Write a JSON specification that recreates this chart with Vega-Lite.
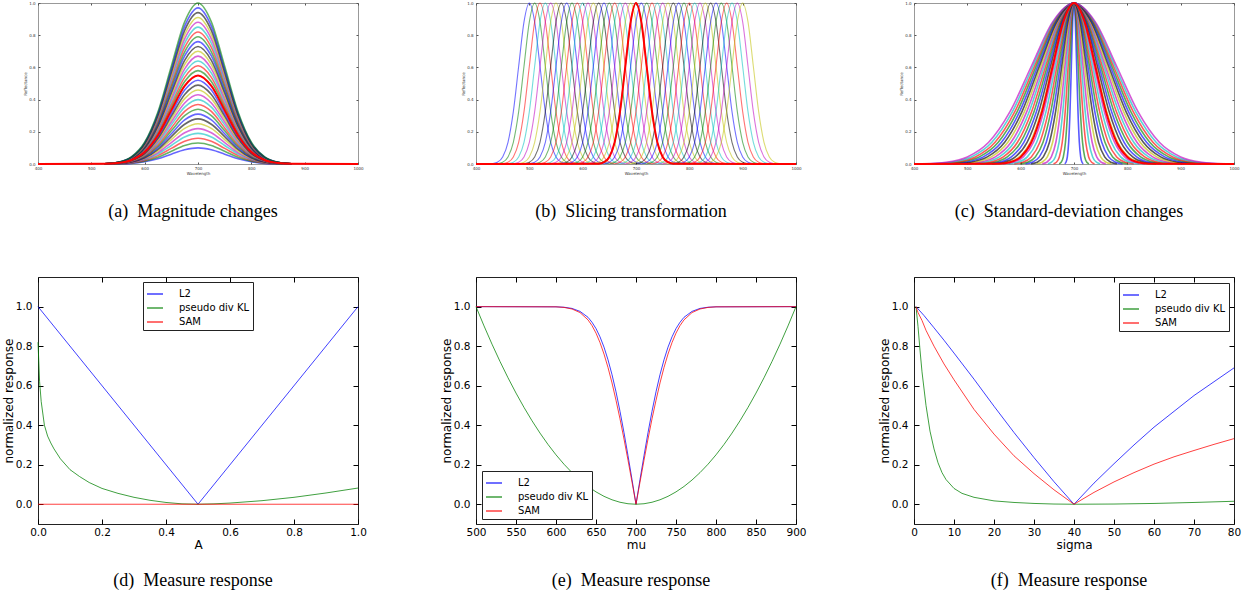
{
"$schema":"https://vega.github.io/schema/vega-lite/v6.json",
"background":"white",
"padding":{"left":1,"top":-2,"right":0,"bottom":0},
"config":{"view":{"stroke":"#222"},"font":"DejaVu Sans","axis":{"grid":false,"domain":false,"labelFlush":false,"labelOverlap":false,"labelFont":"DejaVu Sans","titleFont":"DejaVu Sans","titleFontWeight":"normal","labelColor":"#000","titleColor":"#000","tickColor":"#000"},"title":{"font":"Liberation Serif","fontSize":18,"fontWeight":"normal","color":"#000","orient":"bottom","frame":"group","anchor":"middle"}},
"datasets":{
"a":[
{"s":0.1,"x":525,"y":0},{"s":0.1,"x":550,"y":0.001},{"s":0.1,"x":575,"y":0.004},{"s":0.1,"x":600,"y":0.014},{"s":0.1,"x":625,"y":0.032},{"s":0.1,"x":650,"y":0.061},{"s":0.1,"x":675,"y":0.088},{"s":0.1,"x":700,"y":0.1},{"s":0.1,"x":725,"y":0.088},{"s":0.1,"x":750,"y":0.061},{"s":0.1,"x":775,"y":0.032},{"s":0.1,"x":800,"y":0.014},{"s":0.1,"x":825,"y":0.004},{"s":0.1,"x":850,"y":0.001},{"s":0.1,"x":875,"y":0},
{"s":0.13,"x":525,"y":0},{"s":0.13,"x":550,"y":0.001},{"s":0.13,"x":575,"y":0.006},{"s":0.13,"x":600,"y":0.018},{"s":0.13,"x":625,"y":0.042},{"s":0.13,"x":650,"y":0.079},{"s":0.13,"x":675,"y":0.115},{"s":0.13,"x":700,"y":0.13},{"s":0.13,"x":725,"y":0.115},{"s":0.13,"x":750,"y":0.079},{"s":0.13,"x":775,"y":0.042},{"s":0.13,"x":800,"y":0.018},{"s":0.13,"x":825,"y":0.006},{"s":0.13,"x":850,"y":0.001},{"s":0.13,"x":875,"y":0},
{"s":0.16,"x":525,"y":0},{"s":0.16,"x":550,"y":0.002},{"s":0.16,"x":575,"y":0.007},{"s":0.16,"x":600,"y":0.022},{"s":0.16,"x":625,"y":0.052},{"s":0.16,"x":650,"y":0.097},{"s":0.16,"x":675,"y":0.141},{"s":0.16,"x":700,"y":0.16},{"s":0.16,"x":725,"y":0.141},{"s":0.16,"x":750,"y":0.097},{"s":0.16,"x":775,"y":0.052},{"s":0.16,"x":800,"y":0.022},{"s":0.16,"x":825,"y":0.007},{"s":0.16,"x":850,"y":0.002},{"s":0.16,"x":875,"y":0},
{"s":0.19,"x":525,"y":0},{"s":0.19,"x":550,"y":0.002},{"s":0.19,"x":575,"y":0.008},{"s":0.19,"x":600,"y":0.026},{"s":0.19,"x":625,"y":0.062},{"s":0.19,"x":650,"y":0.115},{"s":0.19,"x":675,"y":0.168},{"s":0.19,"x":700,"y":0.19},{"s":0.19,"x":725,"y":0.168},{"s":0.19,"x":750,"y":0.115},{"s":0.19,"x":775,"y":0.062},{"s":0.19,"x":800,"y":0.026},{"s":0.19,"x":825,"y":0.008},{"s":0.19,"x":850,"y":0.002},{"s":0.19,"x":875,"y":0},
{"s":0.22,"x":525,"y":0},{"s":0.22,"x":550,"y":0.002},{"s":0.22,"x":575,"y":0.01},{"s":0.22,"x":600,"y":0.03},{"s":0.22,"x":625,"y":0.071},{"s":0.22,"x":650,"y":0.133},{"s":0.22,"x":675,"y":0.194},{"s":0.22,"x":700,"y":0.22},{"s":0.22,"x":725,"y":0.194},{"s":0.22,"x":750,"y":0.133},{"s":0.22,"x":775,"y":0.071},{"s":0.22,"x":800,"y":0.03},{"s":0.22,"x":825,"y":0.01},{"s":0.22,"x":850,"y":0.002},{"s":0.22,"x":875,"y":0},
{"s":0.25,"x":525,"y":0.001},{"s":0.25,"x":550,"y":0.003},{"s":0.25,"x":575,"y":0.011},{"s":0.25,"x":600,"y":0.034},{"s":0.25,"x":625,"y":0.081},{"s":0.25,"x":650,"y":0.152},{"s":0.25,"x":675,"y":0.221},{"s":0.25,"x":700,"y":0.25},{"s":0.25,"x":725,"y":0.221},{"s":0.25,"x":750,"y":0.152},{"s":0.25,"x":775,"y":0.081},{"s":0.25,"x":800,"y":0.034},{"s":0.25,"x":825,"y":0.011},{"s":0.25,"x":850,"y":0.003},{"s":0.25,"x":875,"y":0.001},
{"s":0.28,"x":525,"y":0.001},{"s":0.28,"x":550,"y":0.003},{"s":0.28,"x":575,"y":0.012},{"s":0.28,"x":600,"y":0.038},{"s":0.28,"x":625,"y":0.091},{"s":0.28,"x":650,"y":0.17},{"s":0.28,"x":675,"y":0.247},{"s":0.28,"x":700,"y":0.28},{"s":0.28,"x":725,"y":0.247},{"s":0.28,"x":750,"y":0.17},{"s":0.28,"x":775,"y":0.091},{"s":0.28,"x":800,"y":0.038},{"s":0.28,"x":825,"y":0.012},{"s":0.28,"x":850,"y":0.003},{"s":0.28,"x":875,"y":0.001},
{"s":0.31,"x":525,"y":0.001},{"s":0.31,"x":550,"y":0.003},{"s":0.31,"x":575,"y":0.014},{"s":0.31,"x":600,"y":0.042},{"s":0.31,"x":625,"y":0.101},{"s":0.31,"x":650,"y":0.188},{"s":0.31,"x":675,"y":0.274},{"s":0.31,"x":700,"y":0.31},{"s":0.31,"x":725,"y":0.274},{"s":0.31,"x":750,"y":0.188},{"s":0.31,"x":775,"y":0.101},{"s":0.31,"x":800,"y":0.042},{"s":0.31,"x":825,"y":0.014},{"s":0.31,"x":850,"y":0.003},{"s":0.31,"x":875,"y":0.001},
{"s":0.34,"x":525,"y":0.001},{"s":0.34,"x":550,"y":0.004},{"s":0.34,"x":575,"y":0.015},{"s":0.34,"x":600,"y":0.046},{"s":0.34,"x":625,"y":0.11},{"s":0.34,"x":650,"y":0.206},{"s":0.34,"x":675,"y":0.3},{"s":0.34,"x":700,"y":0.34},{"s":0.34,"x":725,"y":0.3},{"s":0.34,"x":750,"y":0.206},{"s":0.34,"x":775,"y":0.11},{"s":0.34,"x":800,"y":0.046},{"s":0.34,"x":825,"y":0.015},{"s":0.34,"x":850,"y":0.004},{"s":0.34,"x":875,"y":0.001},
{"s":0.37,"x":525,"y":0.001},{"s":0.37,"x":550,"y":0.004},{"s":0.37,"x":575,"y":0.016},{"s":0.37,"x":600,"y":0.05},{"s":0.37,"x":625,"y":0.12},{"s":0.37,"x":650,"y":0.224},{"s":0.37,"x":675,"y":0.327},{"s":0.37,"x":700,"y":0.37},{"s":0.37,"x":725,"y":0.327},{"s":0.37,"x":750,"y":0.224},{"s":0.37,"x":775,"y":0.12},{"s":0.37,"x":800,"y":0.05},{"s":0.37,"x":825,"y":0.016},{"s":0.37,"x":850,"y":0.004},{"s":0.37,"x":875,"y":0.001},
{"s":0.4,"x":525,"y":0.001},{"s":0.4,"x":550,"y":0.004},{"s":0.4,"x":575,"y":0.018},{"s":0.4,"x":600,"y":0.054},{"s":0.4,"x":625,"y":0.13},{"s":0.4,"x":650,"y":0.243},{"s":0.4,"x":675,"y":0.353},{"s":0.4,"x":700,"y":0.4},{"s":0.4,"x":725,"y":0.353},{"s":0.4,"x":750,"y":0.243},{"s":0.4,"x":775,"y":0.13},{"s":0.4,"x":800,"y":0.054},{"s":0.4,"x":825,"y":0.018},{"s":0.4,"x":850,"y":0.004},{"s":0.4,"x":875,"y":0.001},
{"s":0.43,"x":525,"y":0.001},{"s":0.43,"x":550,"y":0.005},{"s":0.43,"x":575,"y":0.019},{"s":0.43,"x":600,"y":0.058},{"s":0.43,"x":625,"y":0.14},{"s":0.43,"x":650,"y":0.261},{"s":0.43,"x":675,"y":0.379},{"s":0.43,"x":700,"y":0.43},{"s":0.43,"x":725,"y":0.379},{"s":0.43,"x":750,"y":0.261},{"s":0.43,"x":775,"y":0.14},{"s":0.43,"x":800,"y":0.058},{"s":0.43,"x":825,"y":0.019},{"s":0.43,"x":850,"y":0.005},{"s":0.43,"x":875,"y":0.001},
{"s":0.46,"x":525,"y":0.001},{"s":0.46,"x":550,"y":0.005},{"s":0.46,"x":575,"y":0.02},{"s":0.46,"x":600,"y":0.062},{"s":0.46,"x":625,"y":0.149},{"s":0.46,"x":650,"y":0.279},{"s":0.46,"x":675,"y":0.406},{"s":0.46,"x":700,"y":0.46},{"s":0.46,"x":725,"y":0.406},{"s":0.46,"x":750,"y":0.279},{"s":0.46,"x":775,"y":0.149},{"s":0.46,"x":800,"y":0.062},{"s":0.46,"x":825,"y":0.02},{"s":0.46,"x":850,"y":0.005},{"s":0.46,"x":875,"y":0.001},
{"s":0.49,"x":525,"y":0.001},{"s":0.49,"x":550,"y":0.005},{"s":0.49,"x":575,"y":0.022},{"s":0.49,"x":600,"y":0.066},{"s":0.49,"x":625,"y":0.159},{"s":0.49,"x":650,"y":0.297},{"s":0.49,"x":675,"y":0.432},{"s":0.49,"x":700,"y":0.49},{"s":0.49,"x":725,"y":0.432},{"s":0.49,"x":750,"y":0.297},{"s":0.49,"x":775,"y":0.159},{"s":0.49,"x":800,"y":0.066},{"s":0.49,"x":825,"y":0.022},{"s":0.49,"x":850,"y":0.005},{"s":0.49,"x":875,"y":0.001},
{"s":0.52,"x":525,"y":0.001},{"s":0.52,"x":550,"y":0.006},{"s":0.52,"x":575,"y":0.023},{"s":0.52,"x":600,"y":0.07},{"s":0.52,"x":625,"y":0.169},{"s":0.52,"x":650,"y":0.315},{"s":0.52,"x":675,"y":0.459},{"s":0.52,"x":700,"y":0.52},{"s":0.52,"x":725,"y":0.459},{"s":0.52,"x":750,"y":0.315},{"s":0.52,"x":775,"y":0.169},{"s":0.52,"x":800,"y":0.07},{"s":0.52,"x":825,"y":0.023},{"s":0.52,"x":850,"y":0.006},{"s":0.52,"x":875,"y":0.001},
{"s":0.58,"x":525,"y":0.001},{"s":0.58,"x":550,"y":0.006},{"s":0.58,"x":575,"y":0.025},{"s":0.58,"x":600,"y":0.078},{"s":0.58,"x":625,"y":0.188},{"s":0.58,"x":650,"y":0.352},{"s":0.58,"x":675,"y":0.512},{"s":0.58,"x":700,"y":0.58},{"s":0.58,"x":725,"y":0.512},{"s":0.58,"x":750,"y":0.352},{"s":0.58,"x":775,"y":0.188},{"s":0.58,"x":800,"y":0.078},{"s":0.58,"x":825,"y":0.025},{"s":0.58,"x":850,"y":0.006},{"s":0.58,"x":875,"y":0.001},
{"s":0.61,"x":525,"y":0.001},{"s":0.61,"x":550,"y":0.007},{"s":0.61,"x":575,"y":0.027},{"s":0.61,"x":600,"y":0.083},{"s":0.61,"x":625,"y":0.198},{"s":0.61,"x":650,"y":0.37},{"s":0.61,"x":675,"y":0.538},{"s":0.61,"x":700,"y":0.61},{"s":0.61,"x":725,"y":0.538},{"s":0.61,"x":750,"y":0.37},{"s":0.61,"x":775,"y":0.198},{"s":0.61,"x":800,"y":0.083},{"s":0.61,"x":825,"y":0.027},{"s":0.61,"x":850,"y":0.007},{"s":0.61,"x":875,"y":0.001},
{"s":0.64,"x":525,"y":0.001},{"s":0.64,"x":550,"y":0.007},{"s":0.64,"x":575,"y":0.028},{"s":0.64,"x":600,"y":0.087},{"s":0.64,"x":625,"y":0.208},{"s":0.64,"x":650,"y":0.388},{"s":0.64,"x":675,"y":0.565},{"s":0.64,"x":700,"y":0.64},{"s":0.64,"x":725,"y":0.565},{"s":0.64,"x":750,"y":0.388},{"s":0.64,"x":775,"y":0.208},{"s":0.64,"x":800,"y":0.087},{"s":0.64,"x":825,"y":0.028},{"s":0.64,"x":850,"y":0.007},{"s":0.64,"x":875,"y":0.001},
{"s":0.67,"x":525,"y":0.001},{"s":0.67,"x":550,"y":0.007},{"s":0.67,"x":575,"y":0.029},{"s":0.67,"x":600,"y":0.091},{"s":0.67,"x":625,"y":0.218},{"s":0.67,"x":650,"y":0.406},{"s":0.67,"x":675,"y":0.591},{"s":0.67,"x":700,"y":0.67},{"s":0.67,"x":725,"y":0.591},{"s":0.67,"x":750,"y":0.406},{"s":0.67,"x":775,"y":0.218},{"s":0.67,"x":800,"y":0.091},{"s":0.67,"x":825,"y":0.029},{"s":0.67,"x":850,"y":0.007},{"s":0.67,"x":875,"y":0.001},
{"s":0.7,"x":525,"y":0.002},{"s":0.7,"x":550,"y":0.008},{"s":0.7,"x":575,"y":0.031},{"s":0.7,"x":600,"y":0.095},{"s":0.7,"x":625,"y":0.227},{"s":0.7,"x":650,"y":0.425},{"s":0.7,"x":675,"y":0.618},{"s":0.7,"x":700,"y":0.7},{"s":0.7,"x":725,"y":0.618},{"s":0.7,"x":750,"y":0.425},{"s":0.7,"x":775,"y":0.227},{"s":0.7,"x":800,"y":0.095},{"s":0.7,"x":825,"y":0.031},{"s":0.7,"x":850,"y":0.008},{"s":0.7,"x":875,"y":0.002},
{"s":0.73,"x":525,"y":0.002},{"s":0.73,"x":550,"y":0.008},{"s":0.73,"x":575,"y":0.032},{"s":0.73,"x":600,"y":0.099},{"s":0.73,"x":625,"y":0.237},{"s":0.73,"x":650,"y":0.443},{"s":0.73,"x":675,"y":0.644},{"s":0.73,"x":700,"y":0.73},{"s":0.73,"x":725,"y":0.644},{"s":0.73,"x":750,"y":0.443},{"s":0.73,"x":775,"y":0.237},{"s":0.73,"x":800,"y":0.099},{"s":0.73,"x":825,"y":0.032},{"s":0.73,"x":850,"y":0.008},{"s":0.73,"x":875,"y":0.002},
{"s":0.76,"x":525,"y":0.002},{"s":0.76,"x":550,"y":0.008},{"s":0.76,"x":575,"y":0.033},{"s":0.76,"x":600,"y":0.103},{"s":0.76,"x":625,"y":0.247},{"s":0.76,"x":650,"y":0.461},{"s":0.76,"x":675,"y":0.671},{"s":0.76,"x":700,"y":0.76},{"s":0.76,"x":725,"y":0.671},{"s":0.76,"x":750,"y":0.461},{"s":0.76,"x":775,"y":0.247},{"s":0.76,"x":800,"y":0.103},{"s":0.76,"x":825,"y":0.033},{"s":0.76,"x":850,"y":0.008},{"s":0.76,"x":875,"y":0.002},
{"s":0.79,"x":525,"y":0.002},{"s":0.79,"x":550,"y":0.009},{"s":0.79,"x":575,"y":0.035},{"s":0.79,"x":600,"y":0.107},{"s":0.79,"x":625,"y":0.257},{"s":0.79,"x":650,"y":0.479},{"s":0.79,"x":675,"y":0.697},{"s":0.79,"x":700,"y":0.79},{"s":0.79,"x":725,"y":0.697},{"s":0.79,"x":750,"y":0.479},{"s":0.79,"x":775,"y":0.257},{"s":0.79,"x":800,"y":0.107},{"s":0.79,"x":825,"y":0.035},{"s":0.79,"x":850,"y":0.009},{"s":0.79,"x":875,"y":0.002},
{"s":0.82,"x":525,"y":0.002},{"s":0.82,"x":550,"y":0.009},{"s":0.82,"x":575,"y":0.036},{"s":0.82,"x":600,"y":0.111},{"s":0.82,"x":625,"y":0.266},{"s":0.82,"x":650,"y":0.497},{"s":0.82,"x":675,"y":0.724},{"s":0.82,"x":700,"y":0.82},{"s":0.82,"x":725,"y":0.724},{"s":0.82,"x":750,"y":0.497},{"s":0.82,"x":775,"y":0.266},{"s":0.82,"x":800,"y":0.111},{"s":0.82,"x":825,"y":0.036},{"s":0.82,"x":850,"y":0.009},{"s":0.82,"x":875,"y":0.002},
{"s":0.85,"x":525,"y":0.002},{"s":0.85,"x":550,"y":0.009},{"s":0.85,"x":575,"y":0.037},{"s":0.85,"x":600,"y":0.115},{"s":0.85,"x":625,"y":0.276},{"s":0.85,"x":650,"y":0.516},{"s":0.85,"x":675,"y":0.75},{"s":0.85,"x":700,"y":0.85},{"s":0.85,"x":725,"y":0.75},{"s":0.85,"x":750,"y":0.516},{"s":0.85,"x":775,"y":0.276},{"s":0.85,"x":800,"y":0.115},{"s":0.85,"x":825,"y":0.037},{"s":0.85,"x":850,"y":0.009},{"s":0.85,"x":875,"y":0.002},
{"s":0.88,"x":525,"y":0.002},{"s":0.88,"x":550,"y":0.01},{"s":0.88,"x":575,"y":0.039},{"s":0.88,"x":600,"y":0.119},{"s":0.88,"x":625,"y":0.286},{"s":0.88,"x":650,"y":0.534},{"s":0.88,"x":675,"y":0.777},{"s":0.88,"x":700,"y":0.88},{"s":0.88,"x":725,"y":0.777},{"s":0.88,"x":750,"y":0.534},{"s":0.88,"x":775,"y":0.286},{"s":0.88,"x":800,"y":0.119},{"s":0.88,"x":825,"y":0.039},{"s":0.88,"x":850,"y":0.01},{"s":0.88,"x":875,"y":0.002},
{"s":0.91,"x":525,"y":0.002},{"s":0.91,"x":550,"y":0.01},{"s":0.91,"x":575,"y":0.04},{"s":0.91,"x":600,"y":0.123},{"s":0.91,"x":625,"y":0.295},{"s":0.91,"x":650,"y":0.552},{"s":0.91,"x":675,"y":0.803},{"s":0.91,"x":700,"y":0.91},{"s":0.91,"x":725,"y":0.803},{"s":0.91,"x":750,"y":0.552},{"s":0.91,"x":775,"y":0.295},{"s":0.91,"x":800,"y":0.123},{"s":0.91,"x":825,"y":0.04},{"s":0.91,"x":850,"y":0.01},{"s":0.91,"x":875,"y":0.002},
{"s":0.94,"x":525,"y":0.002},{"s":0.94,"x":550,"y":0.01},{"s":0.94,"x":575,"y":0.041},{"s":0.94,"x":600,"y":0.127},{"s":0.94,"x":625,"y":0.305},{"s":0.94,"x":650,"y":0.57},{"s":0.94,"x":675,"y":0.83},{"s":0.94,"x":700,"y":0.94},{"s":0.94,"x":725,"y":0.83},{"s":0.94,"x":750,"y":0.57},{"s":0.94,"x":775,"y":0.305},{"s":0.94,"x":800,"y":0.127},{"s":0.94,"x":825,"y":0.041},{"s":0.94,"x":850,"y":0.01},{"s":0.94,"x":875,"y":0.002},
{"s":0.97,"x":525,"y":0.002},{"s":0.97,"x":550,"y":0.011},{"s":0.97,"x":575,"y":0.043},{"s":0.97,"x":600,"y":0.131},{"s":0.97,"x":625,"y":0.315},{"s":0.97,"x":650,"y":0.588},{"s":0.97,"x":675,"y":0.856},{"s":0.97,"x":700,"y":0.97},{"s":0.97,"x":725,"y":0.856},{"s":0.97,"x":750,"y":0.588},{"s":0.97,"x":775,"y":0.315},{"s":0.97,"x":800,"y":0.131},{"s":0.97,"x":825,"y":0.043},{"s":0.97,"x":850,"y":0.011},{"s":0.97,"x":875,"y":0.002},
{"s":1,"x":525,"y":0.002},{"s":1,"x":550,"y":0.011},{"s":1,"x":575,"y":0.044},{"s":1,"x":600,"y":0.135},{"s":1,"x":625,"y":0.325},{"s":1,"x":650,"y":0.607},{"s":1,"x":675,"y":0.883},{"s":1,"x":700,"y":1},{"s":1,"x":725,"y":0.883},{"s":1,"x":750,"y":0.607},{"s":1,"x":775,"y":0.325},{"s":1,"x":800,"y":0.135},{"s":1,"x":825,"y":0.044},{"s":1,"x":850,"y":0.011},{"s":1,"x":875,"y":0.002}
],
"ared":[{"x":400,"y":0},{"x":525,"y":0.001},{"x":550,"y":0.006},{"x":575,"y":0.024},{"x":600,"y":0.074},{"x":625,"y":0.179},{"x":650,"y":0.334},{"x":675,"y":0.485},{"x":700,"y":0.55},{"x":725,"y":0.485},{"x":750,"y":0.334},{"x":775,"y":0.179},{"x":800,"y":0.074},{"x":825,"y":0.024},{"x":850,"y":0.006},{"x":875,"y":0.001},{"x":1000,"y":0}],
"b":[
{"s":500,"x":430,"y":0.002},{"s":500,"x":440,"y":0.011},{"s":500,"x":450,"y":0.044},{"s":500,"x":460,"y":0.135},{"s":500,"x":470,"y":0.325},{"s":500,"x":480,"y":0.607},{"s":500,"x":490,"y":0.883},{"s":500,"x":500,"y":1},{"s":500,"x":510,"y":0.883},{"s":500,"x":520,"y":0.607},{"s":500,"x":530,"y":0.325},{"s":500,"x":540,"y":0.135},{"s":500,"x":550,"y":0.044},{"s":500,"x":560,"y":0.011},{"s":500,"x":570,"y":0.002},
{"s":510,"x":440,"y":0.002},{"s":510,"x":450,"y":0.011},{"s":510,"x":460,"y":0.044},{"s":510,"x":470,"y":0.135},{"s":510,"x":480,"y":0.325},{"s":510,"x":490,"y":0.607},{"s":510,"x":500,"y":0.883},{"s":510,"x":510,"y":1},{"s":510,"x":520,"y":0.883},{"s":510,"x":530,"y":0.607},{"s":510,"x":540,"y":0.325},{"s":510,"x":550,"y":0.135},{"s":510,"x":560,"y":0.044},{"s":510,"x":570,"y":0.011},{"s":510,"x":580,"y":0.002},
{"s":520,"x":450,"y":0.002},{"s":520,"x":460,"y":0.011},{"s":520,"x":470,"y":0.044},{"s":520,"x":480,"y":0.135},{"s":520,"x":490,"y":0.325},{"s":520,"x":500,"y":0.607},{"s":520,"x":510,"y":0.883},{"s":520,"x":520,"y":1},{"s":520,"x":530,"y":0.883},{"s":520,"x":540,"y":0.607},{"s":520,"x":550,"y":0.325},{"s":520,"x":560,"y":0.135},{"s":520,"x":570,"y":0.044},{"s":520,"x":580,"y":0.011},{"s":520,"x":590,"y":0.002},
{"s":530,"x":460,"y":0.002},{"s":530,"x":470,"y":0.011},{"s":530,"x":480,"y":0.044},{"s":530,"x":490,"y":0.135},{"s":530,"x":500,"y":0.325},{"s":530,"x":510,"y":0.607},{"s":530,"x":520,"y":0.883},{"s":530,"x":530,"y":1},{"s":530,"x":540,"y":0.883},{"s":530,"x":550,"y":0.607},{"s":530,"x":560,"y":0.325},{"s":530,"x":570,"y":0.135},{"s":530,"x":580,"y":0.044},{"s":530,"x":590,"y":0.011},{"s":530,"x":600,"y":0.002},
{"s":540,"x":470,"y":0.002},{"s":540,"x":480,"y":0.011},{"s":540,"x":490,"y":0.044},{"s":540,"x":500,"y":0.135},{"s":540,"x":510,"y":0.325},{"s":540,"x":520,"y":0.607},{"s":540,"x":530,"y":0.883},{"s":540,"x":540,"y":1},{"s":540,"x":550,"y":0.883},{"s":540,"x":560,"y":0.607},{"s":540,"x":570,"y":0.325},{"s":540,"x":580,"y":0.135},{"s":540,"x":590,"y":0.044},{"s":540,"x":600,"y":0.011},{"s":540,"x":610,"y":0.002},
{"s":550,"x":480,"y":0.002},{"s":550,"x":490,"y":0.011},{"s":550,"x":500,"y":0.044},{"s":550,"x":510,"y":0.135},{"s":550,"x":520,"y":0.325},{"s":550,"x":530,"y":0.607},{"s":550,"x":540,"y":0.883},{"s":550,"x":550,"y":1},{"s":550,"x":560,"y":0.883},{"s":550,"x":570,"y":0.607},{"s":550,"x":580,"y":0.325},{"s":550,"x":590,"y":0.135},{"s":550,"x":600,"y":0.044},{"s":550,"x":610,"y":0.011},{"s":550,"x":620,"y":0.002},
{"s":560,"x":490,"y":0.002},{"s":560,"x":500,"y":0.011},{"s":560,"x":510,"y":0.044},{"s":560,"x":520,"y":0.135},{"s":560,"x":530,"y":0.325},{"s":560,"x":540,"y":0.607},{"s":560,"x":550,"y":0.883},{"s":560,"x":560,"y":1},{"s":560,"x":570,"y":0.883},{"s":560,"x":580,"y":0.607},{"s":560,"x":590,"y":0.325},{"s":560,"x":600,"y":0.135},{"s":560,"x":610,"y":0.044},{"s":560,"x":620,"y":0.011},{"s":560,"x":630,"y":0.002},
{"s":570,"x":500,"y":0.002},{"s":570,"x":510,"y":0.011},{"s":570,"x":520,"y":0.044},{"s":570,"x":530,"y":0.135},{"s":570,"x":540,"y":0.325},{"s":570,"x":550,"y":0.607},{"s":570,"x":560,"y":0.883},{"s":570,"x":570,"y":1},{"s":570,"x":580,"y":0.883},{"s":570,"x":590,"y":0.607},{"s":570,"x":600,"y":0.325},{"s":570,"x":610,"y":0.135},{"s":570,"x":620,"y":0.044},{"s":570,"x":630,"y":0.011},{"s":570,"x":640,"y":0.002},
{"s":580,"x":510,"y":0.002},{"s":580,"x":520,"y":0.011},{"s":580,"x":530,"y":0.044},{"s":580,"x":540,"y":0.135},{"s":580,"x":550,"y":0.325},{"s":580,"x":560,"y":0.607},{"s":580,"x":570,"y":0.883},{"s":580,"x":580,"y":1},{"s":580,"x":590,"y":0.883},{"s":580,"x":600,"y":0.607},{"s":580,"x":610,"y":0.325},{"s":580,"x":620,"y":0.135},{"s":580,"x":630,"y":0.044},{"s":580,"x":640,"y":0.011},{"s":580,"x":650,"y":0.002},
{"s":590,"x":520,"y":0.002},{"s":590,"x":530,"y":0.011},{"s":590,"x":540,"y":0.044},{"s":590,"x":550,"y":0.135},{"s":590,"x":560,"y":0.325},{"s":590,"x":570,"y":0.607},{"s":590,"x":580,"y":0.883},{"s":590,"x":590,"y":1},{"s":590,"x":600,"y":0.883},{"s":590,"x":610,"y":0.607},{"s":590,"x":620,"y":0.325},{"s":590,"x":630,"y":0.135},{"s":590,"x":640,"y":0.044},{"s":590,"x":650,"y":0.011},{"s":590,"x":660,"y":0.002},
{"s":600,"x":530,"y":0.002},{"s":600,"x":540,"y":0.011},{"s":600,"x":550,"y":0.044},{"s":600,"x":560,"y":0.135},{"s":600,"x":570,"y":0.325},{"s":600,"x":580,"y":0.607},{"s":600,"x":590,"y":0.883},{"s":600,"x":600,"y":1},{"s":600,"x":610,"y":0.883},{"s":600,"x":620,"y":0.607},{"s":600,"x":630,"y":0.325},{"s":600,"x":640,"y":0.135},{"s":600,"x":650,"y":0.044},{"s":600,"x":660,"y":0.011},{"s":600,"x":670,"y":0.002},
{"s":610,"x":540,"y":0.002},{"s":610,"x":550,"y":0.011},{"s":610,"x":560,"y":0.044},{"s":610,"x":570,"y":0.135},{"s":610,"x":580,"y":0.325},{"s":610,"x":590,"y":0.607},{"s":610,"x":600,"y":0.883},{"s":610,"x":610,"y":1},{"s":610,"x":620,"y":0.883},{"s":610,"x":630,"y":0.607},{"s":610,"x":640,"y":0.325},{"s":610,"x":650,"y":0.135},{"s":610,"x":660,"y":0.044},{"s":610,"x":670,"y":0.011},{"s":610,"x":680,"y":0.002},
{"s":620,"x":550,"y":0.002},{"s":620,"x":560,"y":0.011},{"s":620,"x":570,"y":0.044},{"s":620,"x":580,"y":0.135},{"s":620,"x":590,"y":0.325},{"s":620,"x":600,"y":0.607},{"s":620,"x":610,"y":0.883},{"s":620,"x":620,"y":1},{"s":620,"x":630,"y":0.883},{"s":620,"x":640,"y":0.607},{"s":620,"x":650,"y":0.325},{"s":620,"x":660,"y":0.135},{"s":620,"x":670,"y":0.044},{"s":620,"x":680,"y":0.011},{"s":620,"x":690,"y":0.002},
{"s":630,"x":560,"y":0.002},{"s":630,"x":570,"y":0.011},{"s":630,"x":580,"y":0.044},{"s":630,"x":590,"y":0.135},{"s":630,"x":600,"y":0.325},{"s":630,"x":610,"y":0.607},{"s":630,"x":620,"y":0.883},{"s":630,"x":630,"y":1},{"s":630,"x":640,"y":0.883},{"s":630,"x":650,"y":0.607},{"s":630,"x":660,"y":0.325},{"s":630,"x":670,"y":0.135},{"s":630,"x":680,"y":0.044},{"s":630,"x":690,"y":0.011},{"s":630,"x":700,"y":0.002},
{"s":640,"x":570,"y":0.002},{"s":640,"x":580,"y":0.011},{"s":640,"x":590,"y":0.044},{"s":640,"x":600,"y":0.135},{"s":640,"x":610,"y":0.325},{"s":640,"x":620,"y":0.607},{"s":640,"x":630,"y":0.883},{"s":640,"x":640,"y":1},{"s":640,"x":650,"y":0.883},{"s":640,"x":660,"y":0.607},{"s":640,"x":670,"y":0.325},{"s":640,"x":680,"y":0.135},{"s":640,"x":690,"y":0.044},{"s":640,"x":700,"y":0.011},{"s":640,"x":710,"y":0.002},
{"s":650,"x":580,"y":0.002},{"s":650,"x":590,"y":0.011},{"s":650,"x":600,"y":0.044},{"s":650,"x":610,"y":0.135},{"s":650,"x":620,"y":0.325},{"s":650,"x":630,"y":0.607},{"s":650,"x":640,"y":0.883},{"s":650,"x":650,"y":1},{"s":650,"x":660,"y":0.883},{"s":650,"x":670,"y":0.607},{"s":650,"x":680,"y":0.325},{"s":650,"x":690,"y":0.135},{"s":650,"x":700,"y":0.044},{"s":650,"x":710,"y":0.011},{"s":650,"x":720,"y":0.002},
{"s":660,"x":590,"y":0.002},{"s":660,"x":600,"y":0.011},{"s":660,"x":610,"y":0.044},{"s":660,"x":620,"y":0.135},{"s":660,"x":630,"y":0.325},{"s":660,"x":640,"y":0.607},{"s":660,"x":650,"y":0.883},{"s":660,"x":660,"y":1},{"s":660,"x":670,"y":0.883},{"s":660,"x":680,"y":0.607},{"s":660,"x":690,"y":0.325},{"s":660,"x":700,"y":0.135},{"s":660,"x":710,"y":0.044},{"s":660,"x":720,"y":0.011},{"s":660,"x":730,"y":0.002},
{"s":670,"x":600,"y":0.002},{"s":670,"x":610,"y":0.011},{"s":670,"x":620,"y":0.044},{"s":670,"x":630,"y":0.135},{"s":670,"x":640,"y":0.325},{"s":670,"x":650,"y":0.607},{"s":670,"x":660,"y":0.883},{"s":670,"x":670,"y":1},{"s":670,"x":680,"y":0.883},{"s":670,"x":690,"y":0.607},{"s":670,"x":700,"y":0.325},{"s":670,"x":710,"y":0.135},{"s":670,"x":720,"y":0.044},{"s":670,"x":730,"y":0.011},{"s":670,"x":740,"y":0.002},
{"s":680,"x":610,"y":0.002},{"s":680,"x":620,"y":0.011},{"s":680,"x":630,"y":0.044},{"s":680,"x":640,"y":0.135},{"s":680,"x":650,"y":0.325},{"s":680,"x":660,"y":0.607},{"s":680,"x":670,"y":0.883},{"s":680,"x":680,"y":1},{"s":680,"x":690,"y":0.883},{"s":680,"x":700,"y":0.607},{"s":680,"x":710,"y":0.325},{"s":680,"x":720,"y":0.135},{"s":680,"x":730,"y":0.044},{"s":680,"x":740,"y":0.011},{"s":680,"x":750,"y":0.002},
{"s":690,"x":620,"y":0.002},{"s":690,"x":630,"y":0.011},{"s":690,"x":640,"y":0.044},{"s":690,"x":650,"y":0.135},{"s":690,"x":660,"y":0.325},{"s":690,"x":670,"y":0.607},{"s":690,"x":680,"y":0.883},{"s":690,"x":690,"y":1},{"s":690,"x":700,"y":0.883},{"s":690,"x":710,"y":0.607},{"s":690,"x":720,"y":0.325},{"s":690,"x":730,"y":0.135},{"s":690,"x":740,"y":0.044},{"s":690,"x":750,"y":0.011},{"s":690,"x":760,"y":0.002},
{"s":700,"x":630,"y":0.002},{"s":700,"x":640,"y":0.011},{"s":700,"x":650,"y":0.044},{"s":700,"x":660,"y":0.135},{"s":700,"x":670,"y":0.325},{"s":700,"x":680,"y":0.607},{"s":700,"x":690,"y":0.883},{"s":700,"x":700,"y":1},{"s":700,"x":710,"y":0.883},{"s":700,"x":720,"y":0.607},{"s":700,"x":730,"y":0.325},{"s":700,"x":740,"y":0.135},{"s":700,"x":750,"y":0.044},{"s":700,"x":760,"y":0.011},{"s":700,"x":770,"y":0.002},
{"s":710,"x":640,"y":0.002},{"s":710,"x":650,"y":0.011},{"s":710,"x":660,"y":0.044},{"s":710,"x":670,"y":0.135},{"s":710,"x":680,"y":0.325},{"s":710,"x":690,"y":0.607},{"s":710,"x":700,"y":0.883},{"s":710,"x":710,"y":1},{"s":710,"x":720,"y":0.883},{"s":710,"x":730,"y":0.607},{"s":710,"x":740,"y":0.325},{"s":710,"x":750,"y":0.135},{"s":710,"x":760,"y":0.044},{"s":710,"x":770,"y":0.011},{"s":710,"x":780,"y":0.002},
{"s":720,"x":650,"y":0.002},{"s":720,"x":660,"y":0.011},{"s":720,"x":670,"y":0.044},{"s":720,"x":680,"y":0.135},{"s":720,"x":690,"y":0.325},{"s":720,"x":700,"y":0.607},{"s":720,"x":710,"y":0.883},{"s":720,"x":720,"y":1},{"s":720,"x":730,"y":0.883},{"s":720,"x":740,"y":0.607},{"s":720,"x":750,"y":0.325},{"s":720,"x":760,"y":0.135},{"s":720,"x":770,"y":0.044},{"s":720,"x":780,"y":0.011},{"s":720,"x":790,"y":0.002},
{"s":730,"x":660,"y":0.002},{"s":730,"x":670,"y":0.011},{"s":730,"x":680,"y":0.044},{"s":730,"x":690,"y":0.135},{"s":730,"x":700,"y":0.325},{"s":730,"x":710,"y":0.607},{"s":730,"x":720,"y":0.883},{"s":730,"x":730,"y":1},{"s":730,"x":740,"y":0.883},{"s":730,"x":750,"y":0.607},{"s":730,"x":760,"y":0.325},{"s":730,"x":770,"y":0.135},{"s":730,"x":780,"y":0.044},{"s":730,"x":790,"y":0.011},{"s":730,"x":800,"y":0.002},
{"s":740,"x":670,"y":0.002},{"s":740,"x":680,"y":0.011},{"s":740,"x":690,"y":0.044},{"s":740,"x":700,"y":0.135},{"s":740,"x":710,"y":0.325},{"s":740,"x":720,"y":0.607},{"s":740,"x":730,"y":0.883},{"s":740,"x":740,"y":1},{"s":740,"x":750,"y":0.883},{"s":740,"x":760,"y":0.607},{"s":740,"x":770,"y":0.325},{"s":740,"x":780,"y":0.135},{"s":740,"x":790,"y":0.044},{"s":740,"x":800,"y":0.011},{"s":740,"x":810,"y":0.002},
{"s":750,"x":680,"y":0.002},{"s":750,"x":690,"y":0.011},{"s":750,"x":700,"y":0.044},{"s":750,"x":710,"y":0.135},{"s":750,"x":720,"y":0.325},{"s":750,"x":730,"y":0.607},{"s":750,"x":740,"y":0.883},{"s":750,"x":750,"y":1},{"s":750,"x":760,"y":0.883},{"s":750,"x":770,"y":0.607},{"s":750,"x":780,"y":0.325},{"s":750,"x":790,"y":0.135},{"s":750,"x":800,"y":0.044},{"s":750,"x":810,"y":0.011},{"s":750,"x":820,"y":0.002},
{"s":760,"x":690,"y":0.002},{"s":760,"x":700,"y":0.011},{"s":760,"x":710,"y":0.044},{"s":760,"x":720,"y":0.135},{"s":760,"x":730,"y":0.325},{"s":760,"x":740,"y":0.607},{"s":760,"x":750,"y":0.883},{"s":760,"x":760,"y":1},{"s":760,"x":770,"y":0.883},{"s":760,"x":780,"y":0.607},{"s":760,"x":790,"y":0.325},{"s":760,"x":800,"y":0.135},{"s":760,"x":810,"y":0.044},{"s":760,"x":820,"y":0.011},{"s":760,"x":830,"y":0.002},
{"s":770,"x":700,"y":0.002},{"s":770,"x":710,"y":0.011},{"s":770,"x":720,"y":0.044},{"s":770,"x":730,"y":0.135},{"s":770,"x":740,"y":0.325},{"s":770,"x":750,"y":0.607},{"s":770,"x":760,"y":0.883},{"s":770,"x":770,"y":1},{"s":770,"x":780,"y":0.883},{"s":770,"x":790,"y":0.607},{"s":770,"x":800,"y":0.325},{"s":770,"x":810,"y":0.135},{"s":770,"x":820,"y":0.044},{"s":770,"x":830,"y":0.011},{"s":770,"x":840,"y":0.002},
{"s":780,"x":710,"y":0.002},{"s":780,"x":720,"y":0.011},{"s":780,"x":730,"y":0.044},{"s":780,"x":740,"y":0.135},{"s":780,"x":750,"y":0.325},{"s":780,"x":760,"y":0.607},{"s":780,"x":770,"y":0.883},{"s":780,"x":780,"y":1},{"s":780,"x":790,"y":0.883},{"s":780,"x":800,"y":0.607},{"s":780,"x":810,"y":0.325},{"s":780,"x":820,"y":0.135},{"s":780,"x":830,"y":0.044},{"s":780,"x":840,"y":0.011},{"s":780,"x":850,"y":0.002},
{"s":790,"x":720,"y":0.002},{"s":790,"x":730,"y":0.011},{"s":790,"x":740,"y":0.044},{"s":790,"x":750,"y":0.135},{"s":790,"x":760,"y":0.325},{"s":790,"x":770,"y":0.607},{"s":790,"x":780,"y":0.883},{"s":790,"x":790,"y":1},{"s":790,"x":800,"y":0.883},{"s":790,"x":810,"y":0.607},{"s":790,"x":820,"y":0.325},{"s":790,"x":830,"y":0.135},{"s":790,"x":840,"y":0.044},{"s":790,"x":850,"y":0.011},{"s":790,"x":860,"y":0.002},
{"s":800,"x":730,"y":0.002},{"s":800,"x":740,"y":0.011},{"s":800,"x":750,"y":0.044},{"s":800,"x":760,"y":0.135},{"s":800,"x":770,"y":0.325},{"s":800,"x":780,"y":0.607},{"s":800,"x":790,"y":0.883},{"s":800,"x":800,"y":1},{"s":800,"x":810,"y":0.883},{"s":800,"x":820,"y":0.607},{"s":800,"x":830,"y":0.325},{"s":800,"x":840,"y":0.135},{"s":800,"x":850,"y":0.044},{"s":800,"x":860,"y":0.011},{"s":800,"x":870,"y":0.002},
{"s":810,"x":740,"y":0.002},{"s":810,"x":750,"y":0.011},{"s":810,"x":760,"y":0.044},{"s":810,"x":770,"y":0.135},{"s":810,"x":780,"y":0.325},{"s":810,"x":790,"y":0.607},{"s":810,"x":800,"y":0.883},{"s":810,"x":810,"y":1},{"s":810,"x":820,"y":0.883},{"s":810,"x":830,"y":0.607},{"s":810,"x":840,"y":0.325},{"s":810,"x":850,"y":0.135},{"s":810,"x":860,"y":0.044},{"s":810,"x":870,"y":0.011},{"s":810,"x":880,"y":0.002},
{"s":820,"x":750,"y":0.002},{"s":820,"x":760,"y":0.011},{"s":820,"x":770,"y":0.044},{"s":820,"x":780,"y":0.135},{"s":820,"x":790,"y":0.325},{"s":820,"x":800,"y":0.607},{"s":820,"x":810,"y":0.883},{"s":820,"x":820,"y":1},{"s":820,"x":830,"y":0.883},{"s":820,"x":840,"y":0.607},{"s":820,"x":850,"y":0.325},{"s":820,"x":860,"y":0.135},{"s":820,"x":870,"y":0.044},{"s":820,"x":880,"y":0.011},{"s":820,"x":890,"y":0.002},
{"s":830,"x":760,"y":0.002},{"s":830,"x":770,"y":0.011},{"s":830,"x":780,"y":0.044},{"s":830,"x":790,"y":0.135},{"s":830,"x":800,"y":0.325},{"s":830,"x":810,"y":0.607},{"s":830,"x":820,"y":0.883},{"s":830,"x":830,"y":1},{"s":830,"x":840,"y":0.883},{"s":830,"x":850,"y":0.607},{"s":830,"x":860,"y":0.325},{"s":830,"x":870,"y":0.135},{"s":830,"x":880,"y":0.044},{"s":830,"x":890,"y":0.011},{"s":830,"x":900,"y":0.002},
{"s":840,"x":770,"y":0.002},{"s":840,"x":780,"y":0.011},{"s":840,"x":790,"y":0.044},{"s":840,"x":800,"y":0.135},{"s":840,"x":810,"y":0.325},{"s":840,"x":820,"y":0.607},{"s":840,"x":830,"y":0.883},{"s":840,"x":840,"y":1},{"s":840,"x":850,"y":0.883},{"s":840,"x":860,"y":0.607},{"s":840,"x":870,"y":0.325},{"s":840,"x":880,"y":0.135},{"s":840,"x":890,"y":0.044},{"s":840,"x":900,"y":0.011},{"s":840,"x":910,"y":0.002},
{"s":850,"x":780,"y":0.002},{"s":850,"x":790,"y":0.011},{"s":850,"x":800,"y":0.044},{"s":850,"x":810,"y":0.135},{"s":850,"x":820,"y":0.325},{"s":850,"x":830,"y":0.607},{"s":850,"x":840,"y":0.883},{"s":850,"x":850,"y":1},{"s":850,"x":860,"y":0.883},{"s":850,"x":870,"y":0.607},{"s":850,"x":880,"y":0.325},{"s":850,"x":890,"y":0.135},{"s":850,"x":900,"y":0.044},{"s":850,"x":910,"y":0.011},{"s":850,"x":920,"y":0.002},
{"s":860,"x":790,"y":0.002},{"s":860,"x":800,"y":0.011},{"s":860,"x":810,"y":0.044},{"s":860,"x":820,"y":0.135},{"s":860,"x":830,"y":0.325},{"s":860,"x":840,"y":0.607},{"s":860,"x":850,"y":0.883},{"s":860,"x":860,"y":1},{"s":860,"x":870,"y":0.883},{"s":860,"x":880,"y":0.607},{"s":860,"x":890,"y":0.325},{"s":860,"x":900,"y":0.135},{"s":860,"x":910,"y":0.044},{"s":860,"x":920,"y":0.011},{"s":860,"x":930,"y":0.002},
{"s":870,"x":800,"y":0.002},{"s":870,"x":810,"y":0.011},{"s":870,"x":820,"y":0.044},{"s":870,"x":830,"y":0.135},{"s":870,"x":840,"y":0.325},{"s":870,"x":850,"y":0.607},{"s":870,"x":860,"y":0.883},{"s":870,"x":870,"y":1},{"s":870,"x":880,"y":0.883},{"s":870,"x":890,"y":0.607},{"s":870,"x":900,"y":0.325},{"s":870,"x":910,"y":0.135},{"s":870,"x":920,"y":0.044},{"s":870,"x":930,"y":0.011},{"s":870,"x":940,"y":0.002},
{"s":880,"x":810,"y":0.002},{"s":880,"x":820,"y":0.011},{"s":880,"x":830,"y":0.044},{"s":880,"x":840,"y":0.135},{"s":880,"x":850,"y":0.325},{"s":880,"x":860,"y":0.607},{"s":880,"x":870,"y":0.883},{"s":880,"x":880,"y":1},{"s":880,"x":890,"y":0.883},{"s":880,"x":900,"y":0.607},{"s":880,"x":910,"y":0.325},{"s":880,"x":920,"y":0.135},{"s":880,"x":930,"y":0.044},{"s":880,"x":940,"y":0.011},{"s":880,"x":950,"y":0.002},
{"s":890,"x":820,"y":0.002},{"s":890,"x":830,"y":0.011},{"s":890,"x":840,"y":0.044},{"s":890,"x":850,"y":0.135},{"s":890,"x":860,"y":0.325},{"s":890,"x":870,"y":0.607},{"s":890,"x":880,"y":0.883},{"s":890,"x":890,"y":1},{"s":890,"x":900,"y":0.883},{"s":890,"x":910,"y":0.607},{"s":890,"x":920,"y":0.325},{"s":890,"x":930,"y":0.135},{"s":890,"x":940,"y":0.044},{"s":890,"x":950,"y":0.011},{"s":890,"x":960,"y":0.002},
{"s":900,"x":830,"y":0.002},{"s":900,"x":840,"y":0.011},{"s":900,"x":850,"y":0.044},{"s":900,"x":860,"y":0.135},{"s":900,"x":870,"y":0.325},{"s":900,"x":880,"y":0.607},{"s":900,"x":890,"y":0.883},{"s":900,"x":900,"y":1},{"s":900,"x":910,"y":0.883},{"s":900,"x":920,"y":0.607},{"s":900,"x":930,"y":0.325},{"s":900,"x":940,"y":0.135},{"s":900,"x":950,"y":0.044},{"s":900,"x":960,"y":0.011},{"s":900,"x":970,"y":0.002}
],
"bred":[{"x":400,"y":0},{"x":630,"y":0.002},{"x":640,"y":0.011},{"x":650,"y":0.044},{"x":660,"y":0.135},{"x":670,"y":0.325},{"x":680,"y":0.607},{"x":690,"y":0.883},{"x":700,"y":1},{"x":710,"y":0.883},{"x":720,"y":0.607},{"x":730,"y":0.325},{"x":740,"y":0.135},{"x":750,"y":0.044},{"x":760,"y":0.011},{"x":770,"y":0.002},{"x":1000,"y":0}],
"c":[
{"s":5,"x":682.5,"y":0.002},{"s":5,"x":685,"y":0.011},{"s":5,"x":687.5,"y":0.044},{"s":5,"x":690,"y":0.135},{"s":5,"x":692.5,"y":0.325},{"s":5,"x":695,"y":0.607},{"s":5,"x":697.5,"y":0.883},{"s":5,"x":700,"y":1},{"s":5,"x":702.5,"y":0.883},{"s":5,"x":705,"y":0.607},{"s":5,"x":707.5,"y":0.325},{"s":5,"x":710,"y":0.135},{"s":5,"x":712.5,"y":0.044},{"s":5,"x":715,"y":0.011},{"s":5,"x":717.5,"y":0.002},
{"s":8,"x":672,"y":0.002},{"s":8,"x":676,"y":0.011},{"s":8,"x":680,"y":0.044},{"s":8,"x":684,"y":0.135},{"s":8,"x":688,"y":0.325},{"s":8,"x":692,"y":0.607},{"s":8,"x":696,"y":0.883},{"s":8,"x":700,"y":1},{"s":8,"x":704,"y":0.883},{"s":8,"x":708,"y":0.607},{"s":8,"x":712,"y":0.325},{"s":8,"x":716,"y":0.135},{"s":8,"x":720,"y":0.044},{"s":8,"x":724,"y":0.011},{"s":8,"x":728,"y":0.002},
{"s":11,"x":661.5,"y":0.002},{"s":11,"x":667,"y":0.011},{"s":11,"x":672.5,"y":0.044},{"s":11,"x":678,"y":0.135},{"s":11,"x":683.5,"y":0.325},{"s":11,"x":689,"y":0.607},{"s":11,"x":694.5,"y":0.883},{"s":11,"x":700,"y":1},{"s":11,"x":705.5,"y":0.883},{"s":11,"x":711,"y":0.607},{"s":11,"x":716.5,"y":0.325},{"s":11,"x":722,"y":0.135},{"s":11,"x":727.5,"y":0.044},{"s":11,"x":733,"y":0.011},{"s":11,"x":738.5,"y":0.002},
{"s":14,"x":651,"y":0.002},{"s":14,"x":658,"y":0.011},{"s":14,"x":665,"y":0.044},{"s":14,"x":672,"y":0.135},{"s":14,"x":679,"y":0.325},{"s":14,"x":686,"y":0.607},{"s":14,"x":693,"y":0.883},{"s":14,"x":700,"y":1},{"s":14,"x":707,"y":0.883},{"s":14,"x":714,"y":0.607},{"s":14,"x":721,"y":0.325},{"s":14,"x":728,"y":0.135},{"s":14,"x":735,"y":0.044},{"s":14,"x":742,"y":0.011},{"s":14,"x":749,"y":0.002},
{"s":17,"x":640.5,"y":0.002},{"s":17,"x":649,"y":0.011},{"s":17,"x":657.5,"y":0.044},{"s":17,"x":666,"y":0.135},{"s":17,"x":674.5,"y":0.325},{"s":17,"x":683,"y":0.607},{"s":17,"x":691.5,"y":0.883},{"s":17,"x":700,"y":1},{"s":17,"x":708.5,"y":0.883},{"s":17,"x":717,"y":0.607},{"s":17,"x":725.5,"y":0.325},{"s":17,"x":734,"y":0.135},{"s":17,"x":742.5,"y":0.044},{"s":17,"x":751,"y":0.011},{"s":17,"x":759.5,"y":0.002},
{"s":20,"x":630,"y":0.002},{"s":20,"x":640,"y":0.011},{"s":20,"x":650,"y":0.044},{"s":20,"x":660,"y":0.135},{"s":20,"x":670,"y":0.325},{"s":20,"x":680,"y":0.607},{"s":20,"x":690,"y":0.883},{"s":20,"x":700,"y":1},{"s":20,"x":710,"y":0.883},{"s":20,"x":720,"y":0.607},{"s":20,"x":730,"y":0.325},{"s":20,"x":740,"y":0.135},{"s":20,"x":750,"y":0.044},{"s":20,"x":760,"y":0.011},{"s":20,"x":770,"y":0.002},
{"s":23,"x":619.5,"y":0.002},{"s":23,"x":631,"y":0.011},{"s":23,"x":642.5,"y":0.044},{"s":23,"x":654,"y":0.135},{"s":23,"x":665.5,"y":0.325},{"s":23,"x":677,"y":0.607},{"s":23,"x":688.5,"y":0.883},{"s":23,"x":700,"y":1},{"s":23,"x":711.5,"y":0.883},{"s":23,"x":723,"y":0.607},{"s":23,"x":734.5,"y":0.325},{"s":23,"x":746,"y":0.135},{"s":23,"x":757.5,"y":0.044},{"s":23,"x":769,"y":0.011},{"s":23,"x":780.5,"y":0.002},
{"s":26,"x":609,"y":0.002},{"s":26,"x":622,"y":0.011},{"s":26,"x":635,"y":0.044},{"s":26,"x":648,"y":0.135},{"s":26,"x":661,"y":0.325},{"s":26,"x":674,"y":0.607},{"s":26,"x":687,"y":0.883},{"s":26,"x":700,"y":1},{"s":26,"x":713,"y":0.883},{"s":26,"x":726,"y":0.607},{"s":26,"x":739,"y":0.325},{"s":26,"x":752,"y":0.135},{"s":26,"x":765,"y":0.044},{"s":26,"x":778,"y":0.011},{"s":26,"x":791,"y":0.002},
{"s":29,"x":598.5,"y":0.002},{"s":29,"x":613,"y":0.011},{"s":29,"x":627.5,"y":0.044},{"s":29,"x":642,"y":0.135},{"s":29,"x":656.5,"y":0.325},{"s":29,"x":671,"y":0.607},{"s":29,"x":685.5,"y":0.883},{"s":29,"x":700,"y":1},{"s":29,"x":714.5,"y":0.883},{"s":29,"x":729,"y":0.607},{"s":29,"x":743.5,"y":0.325},{"s":29,"x":758,"y":0.135},{"s":29,"x":772.5,"y":0.044},{"s":29,"x":787,"y":0.011},{"s":29,"x":801.5,"y":0.002},
{"s":32,"x":588,"y":0.002},{"s":32,"x":604,"y":0.011},{"s":32,"x":620,"y":0.044},{"s":32,"x":636,"y":0.135},{"s":32,"x":652,"y":0.325},{"s":32,"x":668,"y":0.607},{"s":32,"x":684,"y":0.883},{"s":32,"x":700,"y":1},{"s":32,"x":716,"y":0.883},{"s":32,"x":732,"y":0.607},{"s":32,"x":748,"y":0.325},{"s":32,"x":764,"y":0.135},{"s":32,"x":780,"y":0.044},{"s":32,"x":796,"y":0.011},{"s":32,"x":812,"y":0.002},
{"s":35,"x":577.5,"y":0.002},{"s":35,"x":595,"y":0.011},{"s":35,"x":612.5,"y":0.044},{"s":35,"x":630,"y":0.135},{"s":35,"x":647.5,"y":0.325},{"s":35,"x":665,"y":0.607},{"s":35,"x":682.5,"y":0.883},{"s":35,"x":700,"y":1},{"s":35,"x":717.5,"y":0.883},{"s":35,"x":735,"y":0.607},{"s":35,"x":752.5,"y":0.325},{"s":35,"x":770,"y":0.135},{"s":35,"x":787.5,"y":0.044},{"s":35,"x":805,"y":0.011},{"s":35,"x":822.5,"y":0.002},
{"s":38,"x":567,"y":0.002},{"s":38,"x":586,"y":0.011},{"s":38,"x":605,"y":0.044},{"s":38,"x":624,"y":0.135},{"s":38,"x":643,"y":0.325},{"s":38,"x":662,"y":0.607},{"s":38,"x":681,"y":0.883},{"s":38,"x":700,"y":1},{"s":38,"x":719,"y":0.883},{"s":38,"x":738,"y":0.607},{"s":38,"x":757,"y":0.325},{"s":38,"x":776,"y":0.135},{"s":38,"x":795,"y":0.044},{"s":38,"x":814,"y":0.011},{"s":38,"x":833,"y":0.002},
{"s":41,"x":556.5,"y":0.002},{"s":41,"x":577,"y":0.011},{"s":41,"x":597.5,"y":0.044},{"s":41,"x":618,"y":0.135},{"s":41,"x":638.5,"y":0.325},{"s":41,"x":659,"y":0.607},{"s":41,"x":679.5,"y":0.883},{"s":41,"x":700,"y":1},{"s":41,"x":720.5,"y":0.883},{"s":41,"x":741,"y":0.607},{"s":41,"x":761.5,"y":0.325},{"s":41,"x":782,"y":0.135},{"s":41,"x":802.5,"y":0.044},{"s":41,"x":823,"y":0.011},{"s":41,"x":843.5,"y":0.002},
{"s":44,"x":546,"y":0.002},{"s":44,"x":568,"y":0.011},{"s":44,"x":590,"y":0.044},{"s":44,"x":612,"y":0.135},{"s":44,"x":634,"y":0.325},{"s":44,"x":656,"y":0.607},{"s":44,"x":678,"y":0.883},{"s":44,"x":700,"y":1},{"s":44,"x":722,"y":0.883},{"s":44,"x":744,"y":0.607},{"s":44,"x":766,"y":0.325},{"s":44,"x":788,"y":0.135},{"s":44,"x":810,"y":0.044},{"s":44,"x":832,"y":0.011},{"s":44,"x":854,"y":0.002},
{"s":47,"x":535.5,"y":0.002},{"s":47,"x":559,"y":0.011},{"s":47,"x":582.5,"y":0.044},{"s":47,"x":606,"y":0.135},{"s":47,"x":629.5,"y":0.325},{"s":47,"x":653,"y":0.607},{"s":47,"x":676.5,"y":0.883},{"s":47,"x":700,"y":1},{"s":47,"x":723.5,"y":0.883},{"s":47,"x":747,"y":0.607},{"s":47,"x":770.5,"y":0.325},{"s":47,"x":794,"y":0.135},{"s":47,"x":817.5,"y":0.044},{"s":47,"x":841,"y":0.011},{"s":47,"x":864.5,"y":0.002},
{"s":50,"x":525,"y":0.002},{"s":50,"x":550,"y":0.011},{"s":50,"x":575,"y":0.044},{"s":50,"x":600,"y":0.135},{"s":50,"x":625,"y":0.325},{"s":50,"x":650,"y":0.607},{"s":50,"x":675,"y":0.883},{"s":50,"x":700,"y":1},{"s":50,"x":725,"y":0.883},{"s":50,"x":750,"y":0.607},{"s":50,"x":775,"y":0.325},{"s":50,"x":800,"y":0.135},{"s":50,"x":825,"y":0.044},{"s":50,"x":850,"y":0.011},{"s":50,"x":875,"y":0.002},
{"s":53,"x":514.5,"y":0.002},{"s":53,"x":541,"y":0.011},{"s":53,"x":567.5,"y":0.044},{"s":53,"x":594,"y":0.135},{"s":53,"x":620.5,"y":0.325},{"s":53,"x":647,"y":0.607},{"s":53,"x":673.5,"y":0.883},{"s":53,"x":700,"y":1},{"s":53,"x":726.5,"y":0.883},{"s":53,"x":753,"y":0.607},{"s":53,"x":779.5,"y":0.325},{"s":53,"x":806,"y":0.135},{"s":53,"x":832.5,"y":0.044},{"s":53,"x":859,"y":0.011},{"s":53,"x":885.5,"y":0.002},
{"s":56,"x":504,"y":0.002},{"s":56,"x":532,"y":0.011},{"s":56,"x":560,"y":0.044},{"s":56,"x":588,"y":0.135},{"s":56,"x":616,"y":0.325},{"s":56,"x":644,"y":0.607},{"s":56,"x":672,"y":0.883},{"s":56,"x":700,"y":1},{"s":56,"x":728,"y":0.883},{"s":56,"x":756,"y":0.607},{"s":56,"x":784,"y":0.325},{"s":56,"x":812,"y":0.135},{"s":56,"x":840,"y":0.044},{"s":56,"x":868,"y":0.011},{"s":56,"x":896,"y":0.002},
{"s":59,"x":493.5,"y":0.002},{"s":59,"x":523,"y":0.011},{"s":59,"x":552.5,"y":0.044},{"s":59,"x":582,"y":0.135},{"s":59,"x":611.5,"y":0.325},{"s":59,"x":641,"y":0.607},{"s":59,"x":670.5,"y":0.883},{"s":59,"x":700,"y":1},{"s":59,"x":729.5,"y":0.883},{"s":59,"x":759,"y":0.607},{"s":59,"x":788.5,"y":0.325},{"s":59,"x":818,"y":0.135},{"s":59,"x":847.5,"y":0.044},{"s":59,"x":877,"y":0.011},{"s":59,"x":906.5,"y":0.002},
{"s":62,"x":483,"y":0.002},{"s":62,"x":514,"y":0.011},{"s":62,"x":545,"y":0.044},{"s":62,"x":576,"y":0.135},{"s":62,"x":607,"y":0.325},{"s":62,"x":638,"y":0.607},{"s":62,"x":669,"y":0.883},{"s":62,"x":700,"y":1},{"s":62,"x":731,"y":0.883},{"s":62,"x":762,"y":0.607},{"s":62,"x":793,"y":0.325},{"s":62,"x":824,"y":0.135},{"s":62,"x":855,"y":0.044},{"s":62,"x":886,"y":0.011},{"s":62,"x":917,"y":0.002},
{"s":65,"x":472.5,"y":0.002},{"s":65,"x":505,"y":0.011},{"s":65,"x":537.5,"y":0.044},{"s":65,"x":570,"y":0.135},{"s":65,"x":602.5,"y":0.325},{"s":65,"x":635,"y":0.607},{"s":65,"x":667.5,"y":0.883},{"s":65,"x":700,"y":1},{"s":65,"x":732.5,"y":0.883},{"s":65,"x":765,"y":0.607},{"s":65,"x":797.5,"y":0.325},{"s":65,"x":830,"y":0.135},{"s":65,"x":862.5,"y":0.044},{"s":65,"x":895,"y":0.011},{"s":65,"x":927.5,"y":0.002},
{"s":68,"x":462,"y":0.002},{"s":68,"x":496,"y":0.011},{"s":68,"x":530,"y":0.044},{"s":68,"x":564,"y":0.135},{"s":68,"x":598,"y":0.325},{"s":68,"x":632,"y":0.607},{"s":68,"x":666,"y":0.883},{"s":68,"x":700,"y":1},{"s":68,"x":734,"y":0.883},{"s":68,"x":768,"y":0.607},{"s":68,"x":802,"y":0.325},{"s":68,"x":836,"y":0.135},{"s":68,"x":870,"y":0.044},{"s":68,"x":904,"y":0.011},{"s":68,"x":938,"y":0.002},
{"s":71,"x":451.5,"y":0.002},{"s":71,"x":487,"y":0.011},{"s":71,"x":522.5,"y":0.044},{"s":71,"x":558,"y":0.135},{"s":71,"x":593.5,"y":0.325},{"s":71,"x":629,"y":0.607},{"s":71,"x":664.5,"y":0.883},{"s":71,"x":700,"y":1},{"s":71,"x":735.5,"y":0.883},{"s":71,"x":771,"y":0.607},{"s":71,"x":806.5,"y":0.325},{"s":71,"x":842,"y":0.135},{"s":71,"x":877.5,"y":0.044},{"s":71,"x":913,"y":0.011},{"s":71,"x":948.5,"y":0.002},
{"s":74,"x":441,"y":0.002},{"s":74,"x":478,"y":0.011},{"s":74,"x":515,"y":0.044},{"s":74,"x":552,"y":0.135},{"s":74,"x":589,"y":0.325},{"s":74,"x":626,"y":0.607},{"s":74,"x":663,"y":0.883},{"s":74,"x":700,"y":1},{"s":74,"x":737,"y":0.883},{"s":74,"x":774,"y":0.607},{"s":74,"x":811,"y":0.325},{"s":74,"x":848,"y":0.135},{"s":74,"x":885,"y":0.044},{"s":74,"x":922,"y":0.011},{"s":74,"x":959,"y":0.002},
{"s":77,"x":430.5,"y":0.002},{"s":77,"x":469,"y":0.011},{"s":77,"x":507.5,"y":0.044},{"s":77,"x":546,"y":0.135},{"s":77,"x":584.5,"y":0.325},{"s":77,"x":623,"y":0.607},{"s":77,"x":661.5,"y":0.883},{"s":77,"x":700,"y":1},{"s":77,"x":738.5,"y":0.883},{"s":77,"x":777,"y":0.607},{"s":77,"x":815.5,"y":0.325},{"s":77,"x":854,"y":0.135},{"s":77,"x":892.5,"y":0.044},{"s":77,"x":931,"y":0.011},{"s":77,"x":969.5,"y":0.002},
{"s":80,"x":420,"y":0.002},{"s":80,"x":460,"y":0.011},{"s":80,"x":500,"y":0.044},{"s":80,"x":540,"y":0.135},{"s":80,"x":580,"y":0.325},{"s":80,"x":620,"y":0.607},{"s":80,"x":660,"y":0.883},{"s":80,"x":700,"y":1},{"s":80,"x":740,"y":0.883},{"s":80,"x":780,"y":0.607},{"s":80,"x":820,"y":0.325},{"s":80,"x":860,"y":0.135},{"s":80,"x":900,"y":0.044},{"s":80,"x":940,"y":0.011},{"s":80,"x":980,"y":0.002}
],
"cred":[{"x":400,"y":0},{"x":560,"y":0.002},{"x":580,"y":0.011},{"x":600,"y":0.044},{"x":620,"y":0.135},{"x":640,"y":0.325},{"x":660,"y":0.607},{"x":680,"y":0.883},{"x":700,"y":1},{"x":720,"y":0.883},{"x":740,"y":0.607},{"x":760,"y":0.325},{"x":780,"y":0.135},{"x":800,"y":0.044},{"x":820,"y":0.011},{"x":840,"y":0.002},{"x":1000,"y":0}],
"d":[
{"m":"L2","x":0,"y":1},{"m":"L2","x":0.5,"y":0},{"m":"L2","x":1,"y":1},
{"m":"pseudo div KL","x":0,"y":0.82},{"m":"pseudo div KL","x":0.005,"y":0.62},{"m":"pseudo div KL","x":0.01,"y":0.52},{"m":"pseudo div KL","x":0.02,"y":0.4},{"m":"pseudo div KL","x":0.03,"y":0.345},{"m":"pseudo div KL","x":0.04,"y":0.31},{"m":"pseudo div KL","x":0.05,"y":0.28},{"m":"pseudo div KL","x":0.07,"y":0.23},{"m":"pseudo div KL","x":0.1,"y":0.175},{"m":"pseudo div KL","x":0.13,"y":0.14},{"m":"pseudo div KL","x":0.16,"y":0.11},{"m":"pseudo div KL","x":0.2,"y":0.08},{"m":"pseudo div KL","x":0.25,"y":0.055},{"m":"pseudo div KL","x":0.3,"y":0.035},{"m":"pseudo div KL","x":0.35,"y":0.02},{"m":"pseudo div KL","x":0.4,"y":0.009},{"m":"pseudo div KL","x":0.45,"y":0.002},{"m":"pseudo div KL","x":0.5,"y":0},{"m":"pseudo div KL","x":0.55,"y":0.002},{"m":"pseudo div KL","x":0.6,"y":0.006},{"m":"pseudo div KL","x":0.7,"y":0.018},{"m":"pseudo div KL","x":0.8,"y":0.035},{"m":"pseudo div KL","x":0.9,"y":0.057},{"m":"pseudo div KL","x":1,"y":0.082},
{"m":"SAM","x":0,"y":0},{"m":"SAM","x":1,"y":0}
],
"e":[
{"m":"L2","x":500,"y":1},{"m":"L2","x":600,"y":0.999},{"m":"L2","x":610,"y":0.997},{"m":"L2","x":620,"y":0.991},{"m":"L2","x":630,"y":0.976},{"m":"L2","x":640,"y":0.946},{"m":"L2","x":645,"y":0.921},{"m":"L2","x":650,"y":0.889},{"m":"L2","x":655,"y":0.847},{"m":"L2","x":660,"y":0.795},{"m":"L2","x":665,"y":0.731},{"m":"L2","x":670,"y":0.656},{"m":"L2","x":675,"y":0.569},{"m":"L2","x":680,"y":0.47},{"m":"L2","x":685,"y":0.362},{"m":"L2","x":690,"y":0.246},{"m":"L2","x":695,"y":0.125},{"m":"L2","x":700,"y":0},{"m":"L2","x":705,"y":0.125},{"m":"L2","x":710,"y":0.246},{"m":"L2","x":715,"y":0.362},{"m":"L2","x":720,"y":0.47},{"m":"L2","x":725,"y":0.569},{"m":"L2","x":730,"y":0.656},{"m":"L2","x":735,"y":0.731},{"m":"L2","x":740,"y":0.795},{"m":"L2","x":745,"y":0.847},{"m":"L2","x":750,"y":0.889},{"m":"L2","x":755,"y":0.921},{"m":"L2","x":760,"y":0.946},{"m":"L2","x":770,"y":0.976},{"m":"L2","x":780,"y":0.991},{"m":"L2","x":790,"y":0.997},{"m":"L2","x":800,"y":0.999},{"m":"L2","x":900,"y":1},
{"m":"pseudo div KL","x":500,"y":1},{"m":"pseudo div KL","x":510,"y":0.9025},{"m":"pseudo div KL","x":520,"y":0.81},{"m":"pseudo div KL","x":530,"y":0.7225},{"m":"pseudo div KL","x":540,"y":0.64},{"m":"pseudo div KL","x":550,"y":0.5625},{"m":"pseudo div KL","x":560,"y":0.49},{"m":"pseudo div KL","x":570,"y":0.4225},{"m":"pseudo div KL","x":580,"y":0.36},{"m":"pseudo div KL","x":590,"y":0.3025},{"m":"pseudo div KL","x":600,"y":0.25},{"m":"pseudo div KL","x":610,"y":0.2025},{"m":"pseudo div KL","x":620,"y":0.16},{"m":"pseudo div KL","x":630,"y":0.1225},{"m":"pseudo div KL","x":640,"y":0.09},{"m":"pseudo div KL","x":650,"y":0.0625},{"m":"pseudo div KL","x":660,"y":0.04},{"m":"pseudo div KL","x":670,"y":0.0225},{"m":"pseudo div KL","x":680,"y":0.01},{"m":"pseudo div KL","x":690,"y":0.0025},{"m":"pseudo div KL","x":700,"y":0},{"m":"pseudo div KL","x":710,"y":0.0025},{"m":"pseudo div KL","x":720,"y":0.01},{"m":"pseudo div KL","x":730,"y":0.0225},{"m":"pseudo div KL","x":740,"y":0.04},{"m":"pseudo div KL","x":750,"y":0.0625},{"m":"pseudo div KL","x":760,"y":0.09},{"m":"pseudo div KL","x":770,"y":0.1225},{"m":"pseudo div KL","x":780,"y":0.16},{"m":"pseudo div KL","x":790,"y":0.2025},{"m":"pseudo div KL","x":800,"y":0.25},{"m":"pseudo div KL","x":810,"y":0.3025},{"m":"pseudo div KL","x":820,"y":0.36},{"m":"pseudo div KL","x":830,"y":0.4225},{"m":"pseudo div KL","x":840,"y":0.49},{"m":"pseudo div KL","x":850,"y":0.5625},{"m":"pseudo div KL","x":860,"y":0.64},{"m":"pseudo div KL","x":870,"y":0.7225},{"m":"pseudo div KL","x":880,"y":0.81},{"m":"pseudo div KL","x":890,"y":0.9025},{"m":"pseudo div KL","x":900,"y":1},
{"m":"SAM","x":500,"y":1},{"m":"SAM","x":600,"y":0.999},{"m":"SAM","x":610,"y":0.996},{"m":"SAM","x":620,"y":0.988},{"m":"SAM","x":630,"y":0.97},{"m":"SAM","x":640,"y":0.933},{"m":"SAM","x":645,"y":0.904},{"m":"SAM","x":650,"y":0.866},{"m":"SAM","x":655,"y":0.818},{"m":"SAM","x":660,"y":0.76},{"m":"SAM","x":665,"y":0.692},{"m":"SAM","x":670,"y":0.614},{"m":"SAM","x":675,"y":0.526},{"m":"SAM","x":680,"y":0.432},{"m":"SAM","x":685,"y":0.33},{"m":"SAM","x":690,"y":0.223},{"m":"SAM","x":695,"y":0.112},{"m":"SAM","x":700,"y":0},{"m":"SAM","x":705,"y":0.112},{"m":"SAM","x":710,"y":0.223},{"m":"SAM","x":715,"y":0.33},{"m":"SAM","x":720,"y":0.432},{"m":"SAM","x":725,"y":0.526},{"m":"SAM","x":730,"y":0.614},{"m":"SAM","x":735,"y":0.692},{"m":"SAM","x":740,"y":0.76},{"m":"SAM","x":745,"y":0.818},{"m":"SAM","x":750,"y":0.866},{"m":"SAM","x":755,"y":0.904},{"m":"SAM","x":760,"y":0.933},{"m":"SAM","x":770,"y":0.97},{"m":"SAM","x":780,"y":0.988},{"m":"SAM","x":790,"y":0.996},{"m":"SAM","x":800,"y":0.999},{"m":"SAM","x":900,"y":1}
],
"f":[
{"m":"L2","x":0.5,"y":1},{"m":"L2","x":2.5,"y":0.955},{"m":"L2","x":5,"y":0.893},{"m":"L2","x":7.5,"y":0.83},{"m":"L2","x":10,"y":0.765},{"m":"L2","x":15,"y":0.633},{"m":"L2","x":20,"y":0.496},{"m":"L2","x":25,"y":0.363},{"m":"L2","x":30,"y":0.236},{"m":"L2","x":35,"y":0.114},{"m":"L2","x":40,"y":0},{"m":"L2","x":45,"y":0.107},{"m":"L2","x":50,"y":0.205},{"m":"L2","x":55,"y":0.3},{"m":"L2","x":60,"y":0.39},{"m":"L2","x":65,"y":0.47},{"m":"L2","x":70,"y":0.55},{"m":"L2","x":75,"y":0.62},{"m":"L2","x":80,"y":0.69},
{"m":"pseudo div KL","x":0.5,"y":1},{"m":"pseudo div KL","x":1,"y":0.9},{"m":"pseudo div KL","x":1.5,"y":0.78},{"m":"pseudo div KL","x":2,"y":0.67},{"m":"pseudo div KL","x":3,"y":0.5},{"m":"pseudo div KL","x":4,"y":0.37},{"m":"pseudo div KL","x":5,"y":0.28},{"m":"pseudo div KL","x":6,"y":0.21},{"m":"pseudo div KL","x":7,"y":0.16},{"m":"pseudo div KL","x":8,"y":0.125},{"m":"pseudo div KL","x":10,"y":0.08},{"m":"pseudo div KL","x":12,"y":0.055},{"m":"pseudo div KL","x":15,"y":0.035},{"m":"pseudo div KL","x":20,"y":0.017},{"m":"pseudo div KL","x":25,"y":0.009},{"m":"pseudo div KL","x":30,"y":0.004},{"m":"pseudo div KL","x":35,"y":0.001},{"m":"pseudo div KL","x":40,"y":0},{"m":"pseudo div KL","x":50,"y":0.001},{"m":"pseudo div KL","x":60,"y":0.004},{"m":"pseudo div KL","x":70,"y":0.009},{"m":"pseudo div KL","x":80,"y":0.015},
{"m":"SAM","x":0.5,"y":1},{"m":"SAM","x":1,"y":0.97},{"m":"SAM","x":2,"y":0.93},{"m":"SAM","x":3,"y":0.88},{"m":"SAM","x":5,"y":0.8},{"m":"SAM","x":7.5,"y":0.71},{"m":"SAM","x":10,"y":0.63},{"m":"SAM","x":15,"y":0.48},{"m":"SAM","x":20,"y":0.355},{"m":"SAM","x":25,"y":0.245},{"m":"SAM","x":30,"y":0.155},{"m":"SAM","x":35,"y":0.073},{"m":"SAM","x":40,"y":0},{"m":"SAM","x":45,"y":0.06},{"m":"SAM","x":50,"y":0.113},{"m":"SAM","x":55,"y":0.16},{"m":"SAM","x":60,"y":0.203},{"m":"SAM","x":65,"y":0.24},{"m":"SAM","x":70,"y":0.272},{"m":"SAM","x":75,"y":0.303},{"m":"SAM","x":80,"y":0.332}
]
},
"columns":3,
"spacing":{"row":113,"column":118},
"bounds":"flush",
"resolve":{"scale":{"color":"independent"},"legend":{"color":"independent"}},
"concat":[
{"width":320,"height":161,"title":{"text":"(a)\u00a0 Magnitude changes","offset":28,"dx":-5},"view":{"stroke":"#999"},
 "resolve":{"axis":{"x":"independent","y":"independent"}},
 "layer":[
  {"data":{"name":"a"},"mark":{"type":"line","interpolate":"monotone","strokeWidth":1.6,"opacity":0.6},
   "encoding":{"x":{"field":"x","type":"quantitative","scale":{"domain":[400,1000],"nice":false,"zero":false},"axis":{"title":"Wavelength","values":[400,500,600,700,800,900,1000],"format":"d","labelFontSize":4,"titleFontSize":4,"tickSize":-2,"labelPadding":4,"titlePadding":1,"tickColor":"#555","labelColor":"#333","titleColor":"#333"}},
    "y":{"field":"y","type":"quantitative","scale":{"domain":[0,1],"nice":false},"axis":{"title":"Reflectance","values":[0,0.2,0.4,0.6,0.8,1],"format":".1f","labelFontSize":4,"titleFontSize":4,"tickSize":-2,"labelPadding":5,"titlePadding":1,"tickColor":"#555","labelColor":"#333","titleColor":"#333"}},
    "color":{"field":"s","type":"nominal","scale":{"range":["#0000ff","#008000","#ff0000","#00bfbf","#bf00bf","#bfbf00","#000000"]},"legend":null}}},
  {"data":{"name":"ared"},"mark":{"type":"line","interpolate":"monotone","color":"#ff0000","strokeWidth":2},
   "encoding":{"x":{"field":"x","type":"quantitative","scale":{"domain":[400,1000],"nice":false,"zero":false},"axis":{"orient":"top","labels":false,"title":null,"values":[400,500,600,700,800,900,1000],"tickSize":-2,"tickColor":"#555"}},
    "y":{"field":"y","type":"quantitative","scale":{"domain":[0,1],"nice":false},"axis":{"orient":"right","labels":false,"title":null,"values":[0,0.2,0.4,0.6,0.8,1],"tickSize":-2,"tickColor":"#555"}}}}
 ]},
{"width":320,"height":161,"title":{"text":"(b)\u00a0 Slicing transformation","offset":28,"dx":-5},"view":{"stroke":"#999"},
 "resolve":{"axis":{"x":"independent","y":"independent"}},
 "layer":[
  {"data":{"name":"b"},"mark":{"type":"line","interpolate":"monotone","strokeWidth":1.1,"opacity":0.55},
   "encoding":{"x":{"field":"x","type":"quantitative","scale":{"domain":[400,1000],"nice":false,"zero":false},"axis":{"title":"Wavelength","values":[400,500,600,700,800,900,1000],"format":"d","labelFontSize":4,"titleFontSize":4,"tickSize":-2,"labelPadding":4,"titlePadding":1,"tickColor":"#555","labelColor":"#333","titleColor":"#333"}},
    "y":{"field":"y","type":"quantitative","scale":{"domain":[0,1],"nice":false},"axis":{"title":"Reflectance","values":[0,0.2,0.4,0.6,0.8,1],"format":".1f","labelFontSize":4,"titleFontSize":4,"tickSize":-2,"labelPadding":5,"titlePadding":1,"tickColor":"#555","labelColor":"#333","titleColor":"#333"}},
    "color":{"field":"s","type":"nominal","scale":{"range":["#0000ff","#008000","#ff0000","#00bfbf","#bf00bf","#bfbf00","#000000"]},"legend":null}}},
  {"data":{"name":"bred"},"mark":{"type":"line","interpolate":"monotone","color":"#ff0000","strokeWidth":2},
   "encoding":{"x":{"field":"x","type":"quantitative","scale":{"domain":[400,1000],"nice":false,"zero":false},"axis":{"orient":"top","labels":false,"title":null,"values":[400,500,600,700,800,900,1000],"tickSize":-2,"tickColor":"#555"}},
    "y":{"field":"y","type":"quantitative","scale":{"domain":[0,1],"nice":false},"axis":{"orient":"right","labels":false,"title":null,"values":[0,0.2,0.4,0.6,0.8,1],"tickSize":-2,"tickColor":"#555"}}}}
 ]},
{"width":320,"height":161,"title":{"text":"(c)\u00a0 Standard-deviation changes","offset":28,"dx":-5},"view":{"stroke":"#999"},
 "resolve":{"axis":{"x":"independent","y":"independent"}},
 "layer":[
  {"data":{"name":"c"},"mark":{"type":"line","interpolate":"monotone","strokeWidth":1.6,"opacity":0.65},
   "encoding":{"x":{"field":"x","type":"quantitative","scale":{"domain":[400,1000],"nice":false,"zero":false},"axis":{"title":"Wavelength","values":[400,500,600,700,800,900,1000],"format":"d","labelFontSize":4,"titleFontSize":4,"tickSize":-2,"labelPadding":4,"titlePadding":1,"tickColor":"#555","labelColor":"#333","titleColor":"#333"}},
    "y":{"field":"y","type":"quantitative","scale":{"domain":[0,1],"nice":false},"axis":{"title":"Reflectance","values":[0,0.2,0.4,0.6,0.8,1],"format":".1f","labelFontSize":4,"titleFontSize":4,"tickSize":-2,"labelPadding":5,"titlePadding":1,"tickColor":"#555","labelColor":"#333","titleColor":"#333"}},
    "color":{"field":"s","type":"nominal","scale":{"range":["#0000ff","#008000","#ff0000","#00bfbf","#bf00bf","#bfbf00","#000000"]},"legend":null}}},
  {"data":{"name":"cred"},"mark":{"type":"line","interpolate":"monotone","color":"#ff0000","strokeWidth":2},
   "encoding":{"x":{"field":"x","type":"quantitative","scale":{"domain":[400,1000],"nice":false,"zero":false},"axis":{"orient":"top","labels":false,"title":null,"values":[400,500,600,700,800,900,1000],"tickSize":-2,"tickColor":"#555"}},
    "y":{"field":"y","type":"quantitative","scale":{"domain":[0,1],"nice":false},"axis":{"orient":"right","labels":false,"title":null,"values":[0,0.2,0.4,0.6,0.8,1],"tickSize":-2,"tickColor":"#555"}}}}
 ]},
{"width":320,"height":247,"title":{"text":"(d)\u00a0 Measure response","offset":21,"dx":-5},"view":{"stroke":"#222"},
 "resolve":{"axis":{"x":"independent","y":"independent"}},
 "layer":[
  {"data":{"name":"d"},"mark":{"type":"line","strokeWidth":1,"opacity":0.75},
   "encoding":{"x":{"field":"x","type":"quantitative","scale":{"domain":[0,1],"nice":false,"zero":false},"axis":{"title":"A","values":[0,0.2,0.4,0.6,0.8,1],"format":".1f","labelFontSize":10.5,"titleFontSize":12,"tickSize":-5,"labelPadding":8,"titlePadding":2}},
    "y":{"field":"y","type":"quantitative","scale":{"domain":[-0.1,1.15],"nice":false,"zero":false},"axis":{"title":"normalized response","values":[0,0.2,0.4,0.6,0.8,1],"format":".1f","labelFontSize":10.5,"titleFontSize":12,"tickSize":-5,"labelPadding":11,"titlePadding":0}},
    "color":{"field":"m","type":"nominal","scale":{"domain":["L2","pseudo div KL","SAM"],"range":["#0000ff","#008000","#ff0000"]},
     "legend":{"orient":"none","legendX":105,"legendY":5,"title":null,"strokeColor":"#222","fillColor":"#fff","padding":3,"labelFont":"DejaVu Sans","labelFontSize":10,"labelColor":"#000","symbolType":"stroke","symbolSize":256,"symbolStrokeWidth":1.5,"symbolOpacity":0.75,"labelOffset":15,"rowPadding":-0.5}}}},
  {"data":{"values":[{"x":0.5,"y":0.5}]},"mark":{"type":"point","opacity":0},
   "encoding":{"x":{"field":"x","type":"quantitative","scale":{"domain":[0,1],"nice":false,"zero":false},"axis":{"orient":"top","labels":false,"title":null,"values":[0,0.2,0.4,0.6,0.8,1],"tickSize":-5}},
    "y":{"field":"y","type":"quantitative","scale":{"domain":[-0.1,1.15],"nice":false,"zero":false},"axis":{"orient":"right","labels":false,"title":null,"values":[0,0.2,0.4,0.6,0.8,1],"tickSize":-5}}}}
 ]},
{"width":320,"height":247,"title":{"text":"(e)\u00a0 Measure response","offset":21,"dx":-5},"view":{"stroke":"#222"},
 "resolve":{"axis":{"x":"independent","y":"independent"}},
 "layer":[
  {"data":{"name":"e"},"mark":{"type":"line","strokeWidth":1,"opacity":0.75},
   "encoding":{"x":{"field":"x","type":"quantitative","scale":{"domain":[500,900],"nice":false,"zero":false},"axis":{"title":"mu","values":[500,550,600,650,700,750,800,850,900],"format":"d","labelFontSize":10.5,"titleFontSize":12,"tickSize":-5,"labelPadding":8,"titlePadding":2}},
    "y":{"field":"y","type":"quantitative","scale":{"domain":[-0.1,1.15],"nice":false,"zero":false},"axis":{"title":"normalized response","values":[0,0.2,0.4,0.6,0.8,1],"format":".1f","labelFontSize":10.5,"titleFontSize":12,"tickSize":-5,"labelPadding":11,"titlePadding":0}},
    "color":{"field":"m","type":"nominal","scale":{"domain":["L2","pseudo div KL","SAM"],"range":["#0000ff","#008000","#ff0000"]},
     "legend":{"orient":"none","legendX":6,"legendY":194,"title":null,"strokeColor":"#222","fillColor":"#fff","padding":3,"labelFont":"DejaVu Sans","labelFontSize":10,"labelColor":"#000","symbolType":"stroke","symbolSize":256,"symbolStrokeWidth":1.5,"symbolOpacity":0.75,"labelOffset":15,"rowPadding":-0.5}}}},
  {"data":{"values":[{"x":700,"y":0.5}]},"mark":{"type":"point","opacity":0},
   "encoding":{"x":{"field":"x","type":"quantitative","scale":{"domain":[500,900],"nice":false,"zero":false},"axis":{"orient":"top","labels":false,"title":null,"values":[500,550,600,650,700,750,800,850,900],"tickSize":-5}},
    "y":{"field":"y","type":"quantitative","scale":{"domain":[-0.1,1.15],"nice":false,"zero":false},"axis":{"orient":"right","labels":false,"title":null,"values":[0,0.2,0.4,0.6,0.8,1],"tickSize":-5}}}}
 ]},
{"width":320,"height":247,"title":{"text":"(f)\u00a0 Measure response","offset":21,"dx":-5},"view":{"stroke":"#222"},
 "resolve":{"axis":{"x":"independent","y":"independent"}},
 "layer":[
  {"data":{"name":"f"},"mark":{"type":"line","strokeWidth":1,"opacity":0.75},
   "encoding":{"x":{"field":"x","type":"quantitative","scale":{"domain":[0,80],"nice":false,"zero":false},"axis":{"title":"sigma","values":[0,10,20,30,40,50,60,70,80],"format":"d","labelFontSize":10.5,"titleFontSize":12,"tickSize":-5,"labelPadding":8,"titlePadding":2}},
    "y":{"field":"y","type":"quantitative","scale":{"domain":[-0.1,1.15],"nice":false,"zero":false},"axis":{"title":"normalized response","values":[0,0.2,0.4,0.6,0.8,1],"format":".1f","labelFontSize":10.5,"titleFontSize":12,"tickSize":-5,"labelPadding":11,"titlePadding":0}},
    "color":{"field":"m","type":"nominal","scale":{"domain":["L2","pseudo div KL","SAM"],"range":["#0000ff","#008000","#ff0000"]},
     "legend":{"orient":"none","legendX":205,"legendY":6,"title":null,"strokeColor":"#222","fillColor":"#fff","padding":3,"labelFont":"DejaVu Sans","labelFontSize":10,"labelColor":"#000","symbolType":"stroke","symbolSize":256,"symbolStrokeWidth":1.5,"symbolOpacity":0.75,"labelOffset":15,"rowPadding":-0.5}}}},
  {"data":{"values":[{"x":40,"y":0.5}]},"mark":{"type":"point","opacity":0},
   "encoding":{"x":{"field":"x","type":"quantitative","scale":{"domain":[0,80],"nice":false,"zero":false},"axis":{"orient":"top","labels":false,"title":null,"values":[0,10,20,30,40,50,60,70,80],"tickSize":-5}},
    "y":{"field":"y","type":"quantitative","scale":{"domain":[-0.1,1.15],"nice":false,"zero":false},"axis":{"orient":"right","labels":false,"title":null,"values":[0,0.2,0.4,0.6,0.8,1],"tickSize":-5}}}}
 ]}
]
}
